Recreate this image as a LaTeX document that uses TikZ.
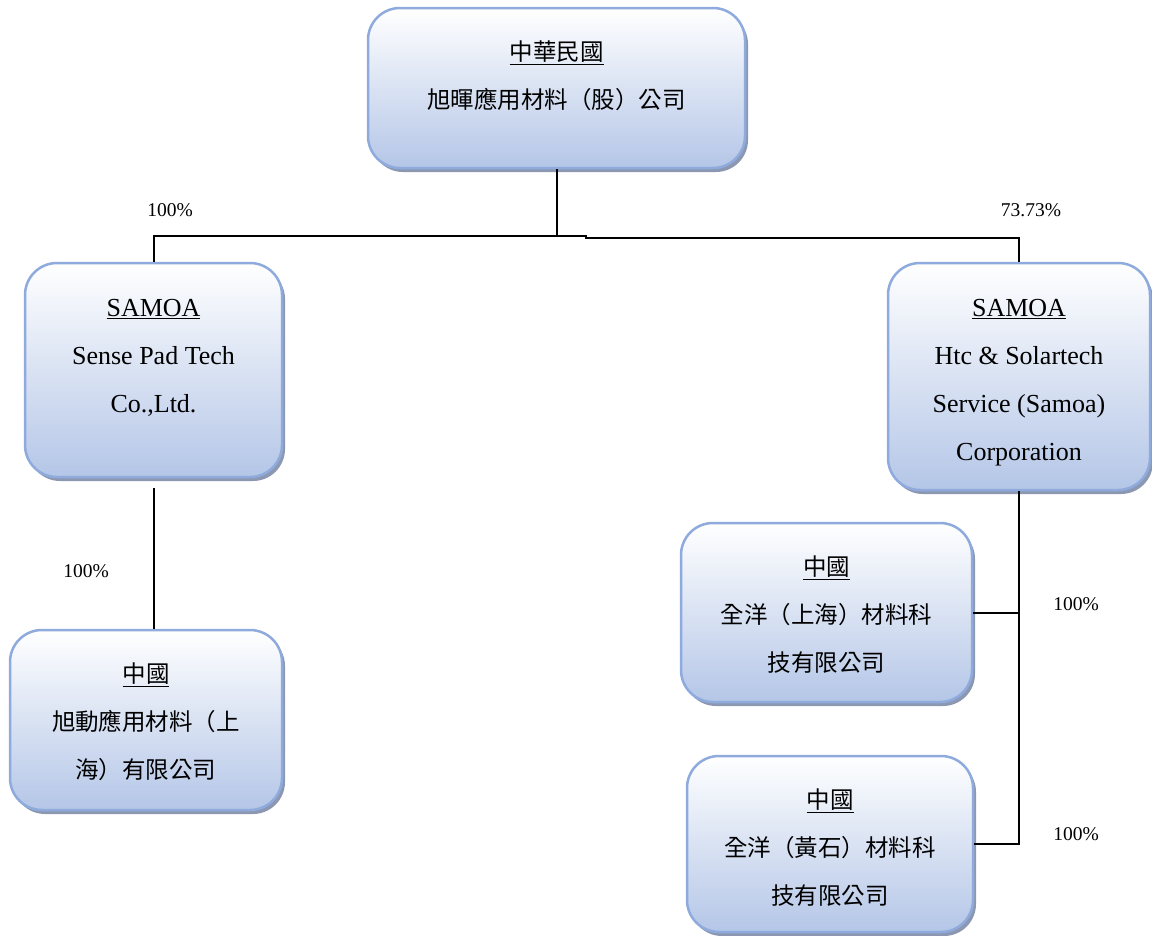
\documentclass[tikz,border=0pt]{standalone}
\usepackage{fontspec}
\setmainfont{Liberation Serif}
\newfontfamily\cjk{Noto Sans CJK TC}
\newcommand{\zh}[1]{{\cjk\fontsize{23.5}{48}\selectfont #1}}
\definecolor{orgline}{RGB}{143,170,220}
\definecolor{orgfill}{RGB}{180,198,231}
\definecolor{orgshadow}{RGB}{140,152,178}
\usetikzlibrary{positioning,shadows,calc}

\begin{document}
\begin{tikzpicture}[x=1pt, y=-1pt,
  obox/.style={rectangle, rounded corners=32pt, draw=orgline, line width=2.5pt,
               top color=white, bottom color=orgfill,
               drop shadow={shadow xshift=3pt, shadow yshift=-4pt, fill=orgshadow, opacity=1}},
  otext/.style={align=center, inner sep=0pt, font=\fontsize{26}{48}\selectfont},
  pct/.style={font=\fontsize{19.5}{22}\selectfont, inner sep=0pt},
  link/.style={line width=2pt, black}
]
\useasboundingbox (0,0) rectangle (1152,935);

% Parent company
\node[obox, minimum width=377pt, minimum height=160pt] (roc) at (556.5,88) {};
\node[otext, below=34pt of roc.north] (roc-t)
  {\underline{\zh{中華民國}}\\\zh{旭暉應用材料（股）公司}};

% Samoa holdings
\node[obox, minimum width=257pt, minimum height=214pt] (spt) at (153.5,370) {};
\node[otext, below=37pt of spt.north] (spt-t)
  {\underline{SAMOA}\\Sense Pad Tech\\Co.,Ltd.};

\node[obox, minimum width=262pt, minimum height=227pt] (hts) at (1019,376.5) {};
\node[otext, below=37pt of hts.north] (hts-t)
  {\underline{SAMOA}\\Htc \& Solartech\\Service (Samoa)\\Corporation};

% China subsidiaries
\node[obox, minimum width=272pt, minimum height=180pt] (xd) at (146,720) {};
\node[otext, below=34pt of xd.north] (xd-t)
  {\underline{\zh{中國}}\\\zh{旭動應用材料（上}\\\zh{海）有限公司}};

\node[obox, minimum width=291pt, minimum height=179pt] (qysh) at (826.5,612.5) {};
\node[otext, below=34pt of qysh.north] (qysh-t)
  {\underline{\zh{中國}}\\\zh{全洋（上海）材料科}\\\zh{技有限公司}};

\node[obox, minimum width=286pt, minimum height=176pt] (qyhs) at (830,844) {};
\node[otext, below=34pt of qyhs.north] (qyhs-t)
  {\underline{\zh{中國}}\\\zh{全洋（黃石）材料科}\\\zh{技有限公司}};

% Shareholdings
\node[pct] (p-spt)  at (170,210)  {100\%};
\node[pct] (p-hts)  at (1031,210) {73.73\%};
\node[pct] (p-xd)   at (86,571)   {100\%};
\node[pct] (p-qysh) at (1076,604) {100\%};
\node[pct] (p-qyhs) at (1076,834) {100\%};

% Connectors
\coordinate (bus) at (586,236);
\coordinate (jn) at (hts.south |- qyhs.east);
\draw[link] (roc.south) -- (roc.south |- bus);
\draw[link] (spt.north) |- (bus) -- ++(0,1.5) -| (hts.north);
\draw[link] (spt.south) ++(0,10) -- (spt.south |- xd.north);
\draw[link] (hts.south) -- (jn) -- (qyhs.east);
\draw[link] (qysh.east) -- (qysh.east -| jn);
\end{tikzpicture}
\end{document}
